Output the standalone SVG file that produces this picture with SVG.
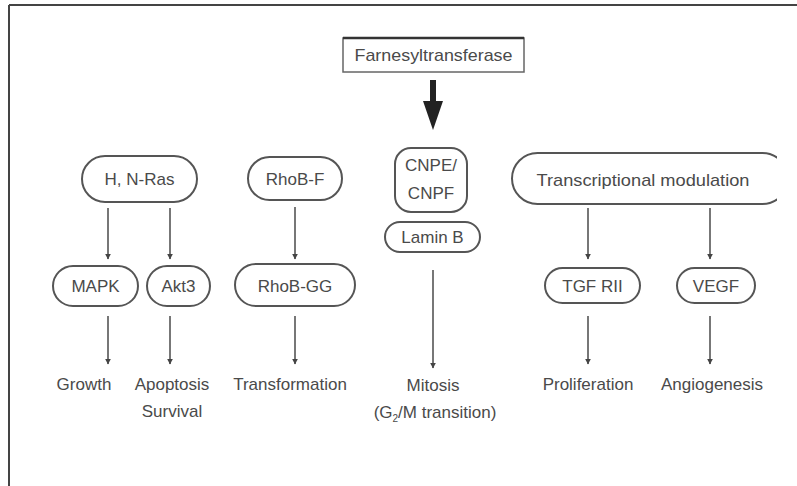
<svg xmlns="http://www.w3.org/2000/svg" width="797" height="486" viewBox="0 0 797 486">
<defs>
<style>
.pill{fill:#fff;stroke:#555;stroke-width:2}
.t{font-family:"Liberation Sans",Arial,sans-serif;font-size:17px;fill:#4a4a4a;text-anchor:middle}
.ln{stroke:#555;stroke-width:1.6;fill:none}
</style>
<marker id="ah" viewBox="0 0 10 10" refX="9" refY="5" markerWidth="6" markerHeight="7" markerUnits="userSpaceOnUse" orient="auto">
<path d="M0,0 L10,5 L0,10 Z" fill="#444"/>
</marker>
<clipPath id="clipR"><rect x="0" y="0" width="777" height="486"/></clipPath>
</defs>
<rect width="797" height="486" fill="#fff"/>
<g id="frame">
<line x1="9" y1="5" x2="797" y2="5" stroke="#444" stroke-width="2"/>
<line x1="9" y1="5" x2="9" y2="486" stroke="#444" stroke-width="2"/>
</g>
<g id="farnesyltransferase">
<rect x="343" y="38" width="181" height="34" fill="#fff" stroke="#666" stroke-width="1.5"/>
<line x1="343" y1="38" x2="524" y2="38" stroke="#333" stroke-width="2.5"/>
<text class="t" x="433.5" y="61" textLength="158" lengthAdjust="spacingAndGlyphs">Farnesyltransferase</text>
</g>
<g id="hnras"><rect class="pill" x="82" y="156" width="115" height="46" rx="23"/><text class="t" x="139.5" y="185">H, N-Ras</text></g>
<g id="rhobf"><rect class="pill" x="248" y="157" width="94" height="43" rx="21.5"/><text class="t" x="295" y="185">RhoB-F</text></g>
<g id="cnpe"><rect class="pill" x="395" y="148" width="72" height="64" rx="16"/><text class="t" x="431" y="171">CNPE/</text><text class="t" x="431" y="199">CNPF</text></g>
<g id="laminb"><rect class="pill" x="385" y="222" width="95" height="30" rx="15"/><text class="t" x="432.5" y="243">Lamin B</text></g>
<g id="transcriptional" clip-path="url(#clipR)"><rect class="pill" x="512" y="153" width="276" height="51" rx="25.5"/><text class="t" x="643" y="186" textLength="213" lengthAdjust="spacingAndGlyphs">Transcriptional modulation</text></g>
<g id="mapk"><rect class="pill" x="53" y="266" width="85" height="40" rx="20"/><text class="t" x="95.5" y="292">MAPK</text></g>
<g id="akt3"><rect class="pill" x="147" y="266" width="63" height="40" rx="20"/><text class="t" x="178.5" y="292">Akt3</text></g>
<g id="rhobgg"><rect class="pill" x="235" y="264" width="120" height="42" rx="21"/><text class="t" x="295" y="292">RhoB-GG</text></g>
<g id="tgfrii"><rect class="pill" x="545" y="268" width="95" height="35" rx="17.5"/><text class="t" x="592.5" y="292">TGF RII</text></g>
<g id="vegf"><rect class="pill" x="677" y="268" width="78" height="35" rx="17.5"/><text class="t" x="716" y="292">VEGF</text></g>
<g id="labels">
<text class="t" x="84" y="390">Growth</text>
<text class="t" x="172" y="390">Apoptosis</text>
<text class="t" x="172" y="417">Survival</text>
<text class="t" x="290" y="390">Transformation</text>
<text class="t" x="433" y="391">Mitosis</text>
<text class="t" x="435" y="418">(G<tspan font-size="10" dy="4">2</tspan><tspan dy="-4">/M transition)</tspan></text>
<text class="t" x="588" y="390">Proliferation</text>
<text class="t" x="712" y="390">Angiogenesis</text>
</g>
<g id="connectors">
<line x1="433" y1="80" x2="433" y2="104" stroke="#222" stroke-width="6"/>
<path d="M423,101 L443,101 L433,130 Z" fill="#222"/>
<line class="ln" x1="108" y1="208" x2="108" y2="259" marker-end="url(#ah)"/>
<line class="ln" x1="170" y1="208" x2="170" y2="259" marker-end="url(#ah)"/>
<line class="ln" x1="295" y1="207" x2="295" y2="259" marker-end="url(#ah)"/>
<line class="ln" x1="588" y1="208" x2="588" y2="259" marker-end="url(#ah)"/>
<line class="ln" x1="710" y1="208" x2="710" y2="259" marker-end="url(#ah)"/>
<line class="ln" x1="108" y1="316" x2="108" y2="364" marker-end="url(#ah)"/>
<line class="ln" x1="170" y1="316" x2="170" y2="364" marker-end="url(#ah)"/>
<line class="ln" x1="295" y1="316" x2="295" y2="364" marker-end="url(#ah)"/>
<line class="ln" x1="433" y1="270" x2="433" y2="368" marker-end="url(#ah)"/>
<line class="ln" x1="588" y1="316" x2="588" y2="364" marker-end="url(#ah)"/>
<line class="ln" x1="710" y1="316" x2="710" y2="364" marker-end="url(#ah)"/>
</g>
</svg>
